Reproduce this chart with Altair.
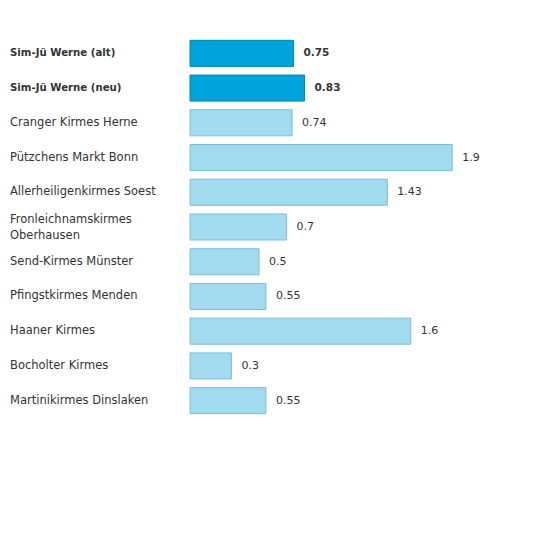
import altair as alt
import pandas as pd

names = ["Sim-Jü Werne (alt)", "Sim-Jü Werne (neu)", "Cranger Kirmes Herne",
         "Pützchens Markt Bonn", "Allerheiligenkirmes Soest",
         "Fronleichnamskirmes\nOberhausen", "Send-Kirmes Münster",
         "Pfingstkirmes Menden", "Haaner Kirmes", "Bocholter Kirmes",
         "Martinikirmes Dinslaken"]
values = [0.75, 0.83, 0.74, 1.9, 1.43, 0.7, 0.5, 0.55, 1.6, 0.3, 0.55]
value_labels = ["0.75", "0.83", "0.74", "1.9", "1.43", "0.7", "0.5", "0.55", "1.6", "0.3", "0.55"]
groups = ["Sim-Jü", "Sim-Jü"] + ["andere"] * 9

df = pd.DataFrame({"name": names, "value": values, "label": value_labels, "group": groups})

y = alt.Y("name:N", sort=names, axis=None,
          scale=alt.Scale(paddingInner=0.25, paddingOuter=0.125))
x = alt.X("value:Q", axis=None, scale=alt.Scale(domain=[0, 2.5]))

base = alt.Chart(df)

bars = base.mark_bar(strokeWidth=1).encode(
    x=x, y=y,
    color=alt.Color("group:N", legend=None,
                    scale=alt.Scale(domain=["Sim-Jü", "andere"], range=["#00a3db", "#a2dbf0"])),
    stroke=alt.Stroke("group:N", legend=None,
                      scale=alt.Scale(domain=["Sim-Jü", "andere"], range=["#0085b5", "#7bbfd3"])),
)

# bold labels for Sim-Jü, normal for the rest; two-line names shifted up half a line
styles = [
    ("datum.group == 'Sim-Jü'", "bold", 10.5, 10.2, 0),
    ("datum.group == 'andere' && indexof(datum.name, '\\n') < 0", "normal", 11, 11.5, 0),
    ("datum.group == 'andere' && indexof(datum.name, '\\n') >= 0", "normal", 11, 11.5, -7),
]

layers = [bars]
for test, wt, vsize, nsize, shift in styles:
    sub = base.transform_filter(test)
    layers.append(sub.mark_text(align="left", baseline="middle", dx=10, fontSize=vsize,
                                font="DejaVu Sans", fontWeight=wt, color="#333333").encode(
        x=x, y=y, text="label:N"))
    layers.append(sub.mark_text(align="left", baseline="middle", fontSize=nsize, lineBreak="\n",
                                lineHeight=16, dy=shift, font="DejaVu Sans", fontWeight=wt,
                                color="#333333").encode(
        x=alt.value(-180), y=y, text="name:N"))

chart = alt.layer(*layers).properties(
    width=345, height=382,
    autosize=alt.AutoSizeParams(type="none"),
    padding={"left": 182, "top": 28, "right": 10, "bottom": 10},
).configure_view(stroke=None)

chart.save("out.html", embed_options={"renderer": "svg", "actions": False})
